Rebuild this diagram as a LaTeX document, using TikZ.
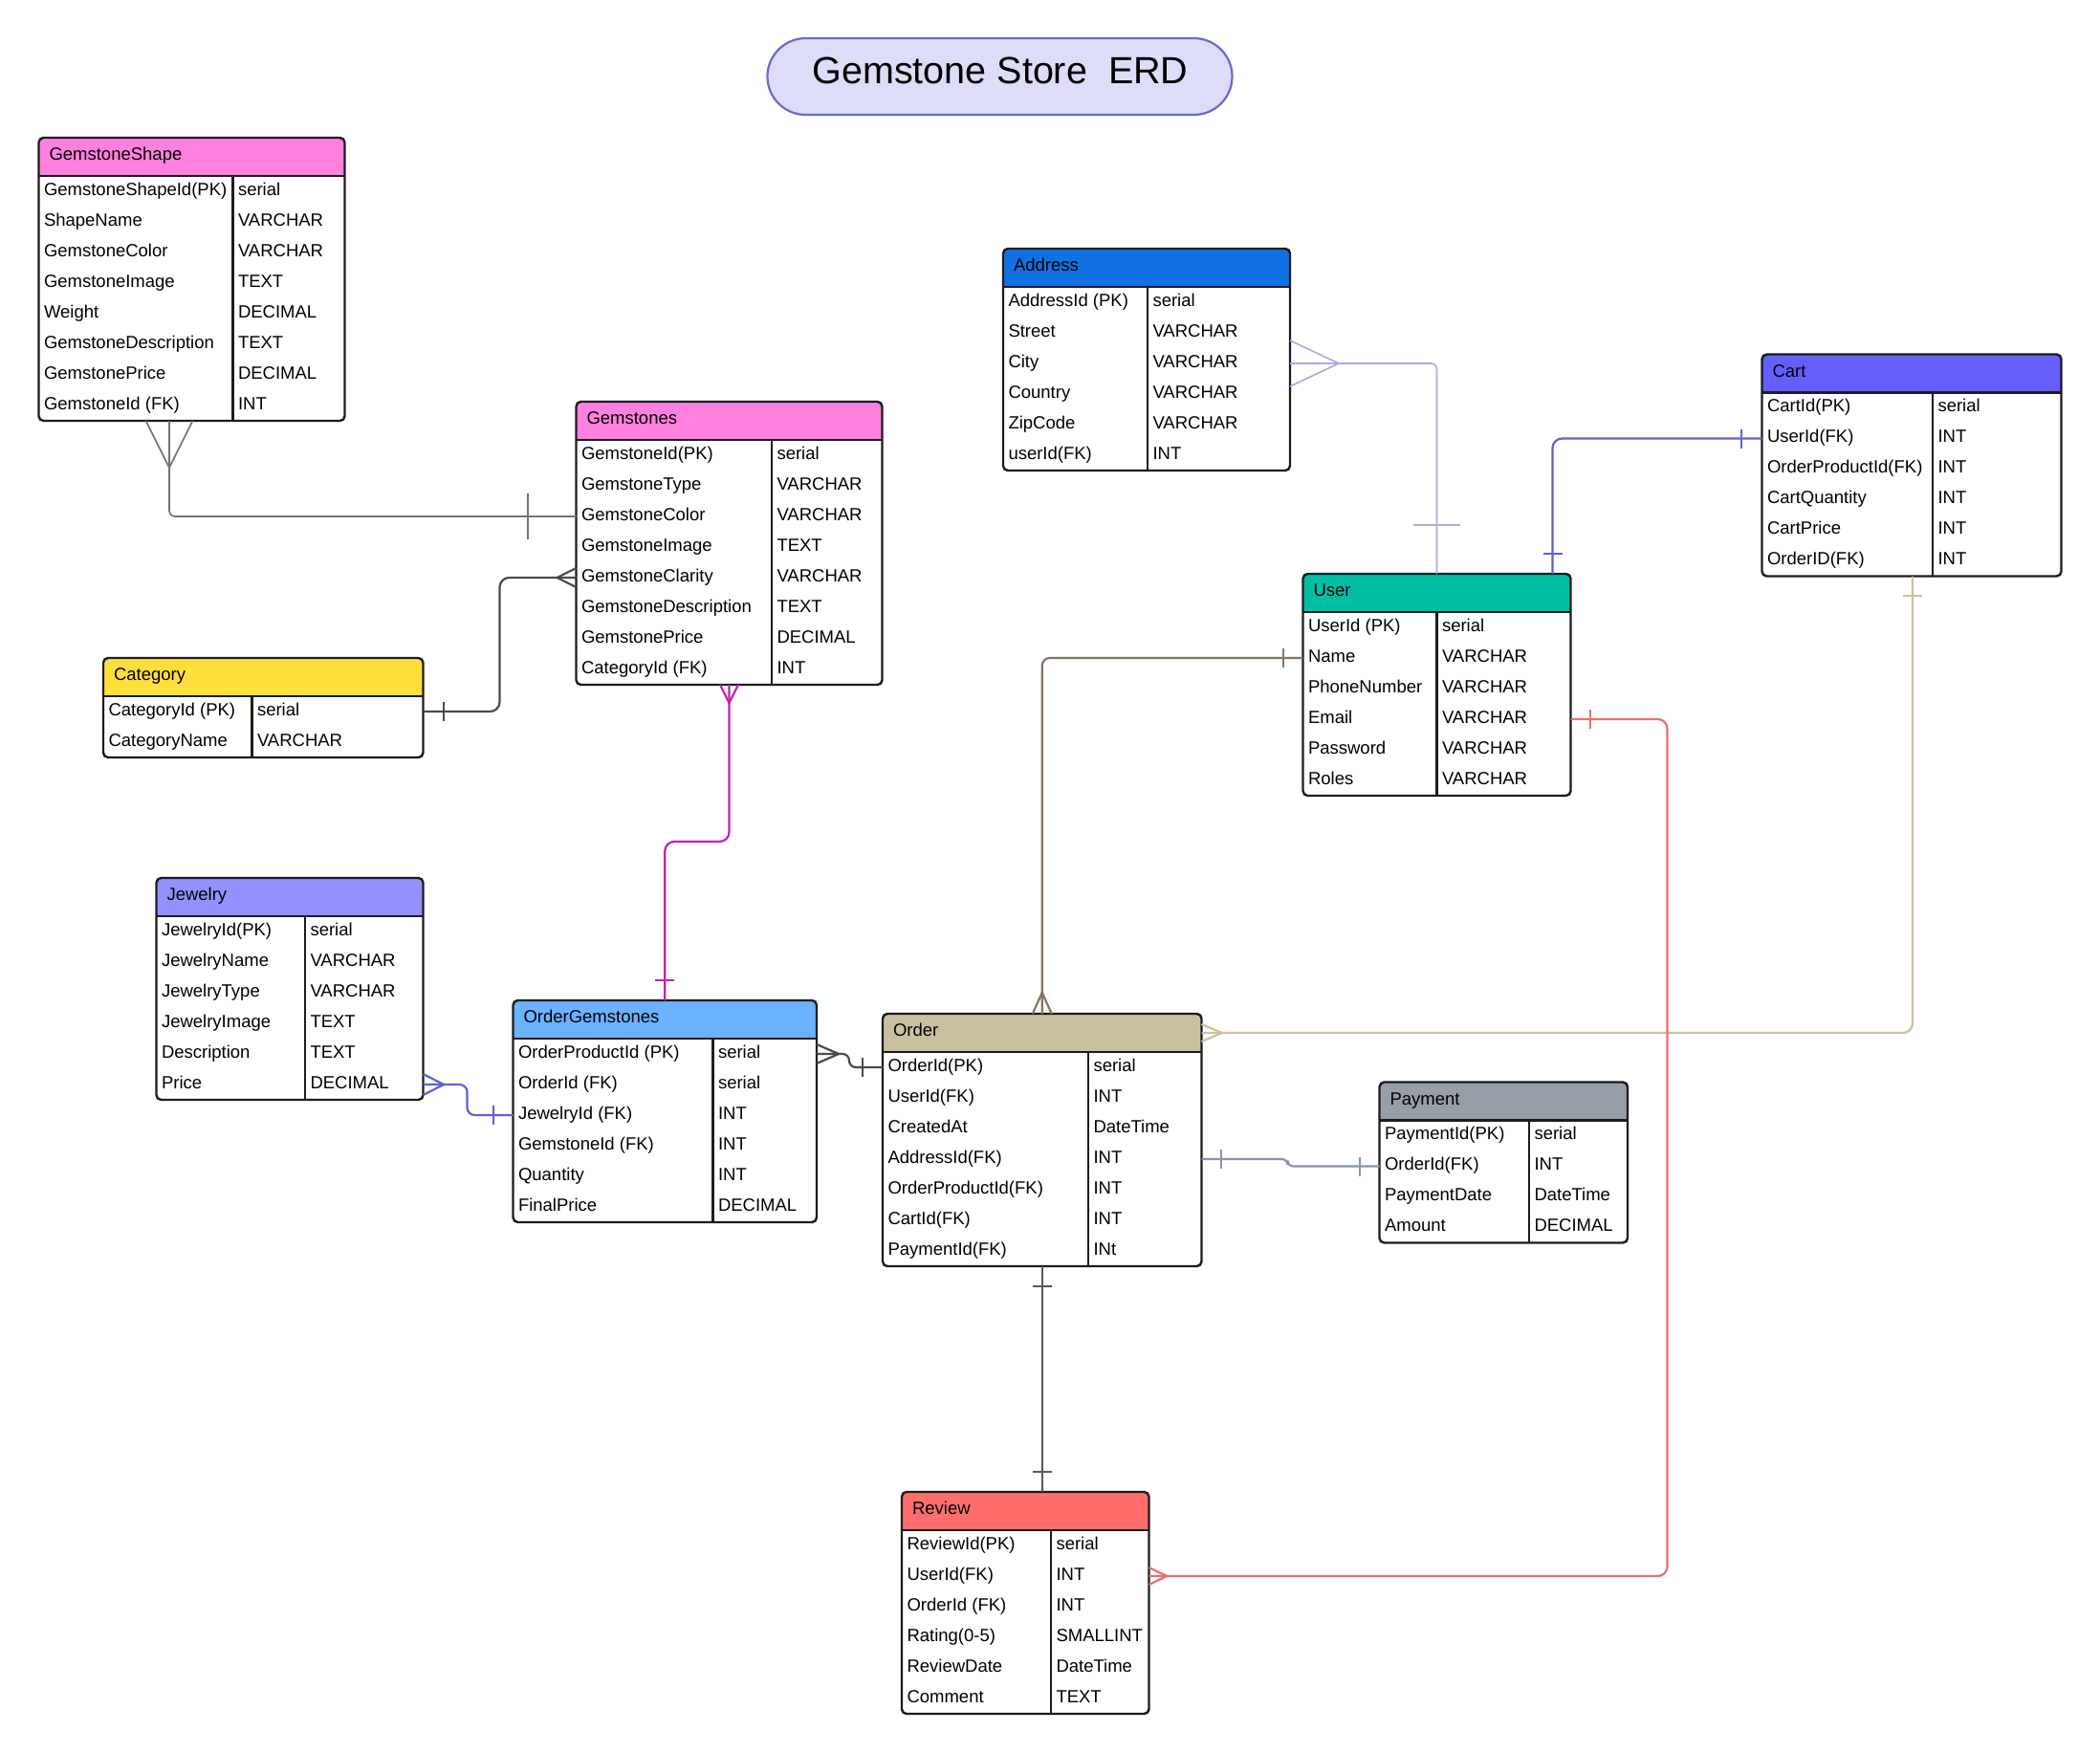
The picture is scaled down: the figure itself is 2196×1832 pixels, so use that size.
\documentclass[tikz,border=0pt]{standalone}
\usepackage{fontspec}
\setmainfont{Liberation Sans}
\usetikzlibrary{calc}

% table frame and header colours
\definecolor{ink}{RGB}{28,28,30}
\definecolor{hdrpink}{RGB}{255,128,223}
\definecolor{hdryellow}{RGB}{255,223,60}
\definecolor{hdrblue}{RGB}{16,113,229}
\definecolor{hdrviolet}{RGB}{100,95,250}
\definecolor{hdrteal}{RGB}{0,191,165}
\definecolor{hdrlav}{RGB}{148,145,255}
\definecolor{hdrsky}{RGB}{107,178,255}
\definecolor{hdrtan}{RGB}{200,192,160}
\definecolor{hdrgrey}{RGB}{151,158,168}
\definecolor{hdrred}{RGB}{255,110,108}
\definecolor{titlefill}{RGB}{221,221,250}
\definecolor{titleline}{RGB}{105,105,210}
% relationship line colours
\definecolor{greyA}{RGB}{115,115,115}
\definecolor{slate}{RGB}{72,74,80}
\definecolor{magentaL}{RGB}{196,32,180}
\definecolor{violetL}{RGB}{96,96,214}
\definecolor{oliveL}{RGB}{128,119,98}
\definecolor{lavL}{RGB}{172,172,226}
\definecolor{tanL}{RGB}{205,192,158}
\definecolor{steelL}{RGB}{138,148,166}
\definecolor{greyB}{RGB}{88,88,88}
\definecolor{salmonL}{RGB}{232,112,112}

\tikzset{
  cell/.style={inner sep=0pt, outer sep=0pt, font=\fontsize{18.5}{22}\selectfont, text=black, anchor=base west},
  rowbox/.style={inner sep=0pt, outer sep=0pt, minimum height=32pt, anchor=north west},
  frame/.style={draw=ink, line width=2.4pt},
  rule/.style={draw=ink, line width=2.2pt},
  link/.style={line width=2.2pt},
  thinlink/.style={line width=1.6pt},
}

% #1 name, #2 left, #3 top, #4 right, #5 column divider, #6 header colour,
% #7 title, #8 number of rows, #9 rows as field/type
\newcommand\erdtable[9]{%
  \pgfmathsetmacro\erdW{#4-#2}%
  \pgfmathsetmacro\erdH{40+32*#8}%
  \pgfmathsetmacro\erdB{#3+40+32*#8}%
  \node[inner sep=0pt, outer sep=0pt, minimum width=\erdW pt, minimum height=\erdH pt, anchor=north west] (#1) at (#2,#3) {};
  \begin{scope}
    \clip[rounded corners=5pt] (#2,#3) rectangle (#4,\erdB);
    \fill[white] (#2,#3) rectangle (#4,\erdB);
    \fill[#6] (#2,#3) rectangle (#4,#3+40);
  \end{scope}
  \node[inner sep=0pt, outer sep=0pt, minimum width=\erdW pt, minimum height=40pt, anchor=north west] (#1-h) at (#2,#3) {};
  \node[cell] (#1-title) at (#2+11,#3+23.5) {#7};
  \foreach \fa/\ty [count=\i] in {#9} {%
    \pgfmathsetmacro\erdY{#3+40+32*(\i-1)}%
    \node[rowbox, minimum width=\erdW pt] (#1-\i) at (#2,\erdY) {};
    \node[cell] (#1-\i-f) at (#2+5.5,\erdY+20.3) {\fa};
    \node[cell] (#1-\i-t) at (#5+5.5,\erdY+20.3) {\ty};
  }
  \draw[rule] (#2,#3+40) -- (#4,#3+40);
  \draw[rule] (#5,#3+40) -- (#5,\erdB);
  \draw[frame, rounded corners=5pt] (#2,#3) rectangle (#4,\erdB);
}

\begin{document}
\begin{tikzpicture}[x=1pt, y=-1pt]
\useasboundingbox (0,0) rectangle (2196,1832);
\fill[white] (0,0) rectangle (2196,1832);

% title
\node[draw=titleline, fill=titlefill, line width=2.2pt, rounded corners=40pt,
      minimum width=486pt, minimum height=80pt, inner sep=0pt] (title) at (1045.5,80) {};
\node[inner sep=0pt, anchor=base, font=\fontsize{39.5}{44}\selectfont] (titletext) at (1046,87) {Gemstone Store\ \ ERD};

% tables
\erdtable{gshape}{40.5}{144}{360.5}{243.5}{hdrpink}{GemstoneShape}{8}{%
  GemstoneShapeId(PK)/serial, ShapeName/VARCHAR, GemstoneColor/VARCHAR,
  GemstoneImage/TEXT, Weight/DECIMAL, GemstoneDescription/TEXT,
  GemstonePrice/DECIMAL, GemstoneId (FK)/INT}
\erdtable{gems}{602.5}{420}{922.5}{807}{hdrpink}{Gemstones}{8}{%
  GemstoneId(PK)/serial, GemstoneType/VARCHAR, GemstoneColor/VARCHAR,
  GemstoneImage/TEXT, GemstoneClarity/VARCHAR, GemstoneDescription/TEXT,
  GemstonePrice/DECIMAL, CategoryId (FK)/INT}
\erdtable{cat}{108}{688}{442.5}{263.5}{hdryellow}{Category}{2}{%
  CategoryId (PK)/serial, CategoryName/VARCHAR}
\erdtable{addr}{1049}{260}{1349}{1200}{hdrblue}{Address}{6}{%
  AddressId (PK)/serial, Street/VARCHAR, City/VARCHAR, Country/VARCHAR,
  ZipCode/VARCHAR, userId(FK)/INT}
\erdtable{cart}{1842.5}{370.5}{2155.5}{2021}{hdrviolet}{Cart}{6}{%
  CartId(PK)/serial, UserId(FK)/INT, OrderProductId(FK)/INT,
  CartQuantity/INT, CartPrice/INT, OrderID(FK)/INT}
\erdtable{user}{1362.5}{600}{1642.5}{1502.5}{hdrteal}{User}{6}{%
  UserId (PK)/serial, Name/VARCHAR, PhoneNumber/VARCHAR, Email/VARCHAR,
  Password/VARCHAR, Roles/VARCHAR}
\erdtable{jew}{163.5}{918}{442.5}{319}{hdrlav}{Jewelry}{6}{%
  JewelryId(PK)/serial, JewelryName/VARCHAR, JewelryType/VARCHAR,
  JewelryImage/TEXT, Description/TEXT, Price/DECIMAL}
\erdtable{og}{536.5}{1046}{854}{745.5}{hdrsky}{OrderGemstones}{6}{%
  OrderProductId (PK)/serial, OrderId (FK)/serial, JewelryId (FK)/INT,
  GemstoneId (FK)/INT, Quantity/INT, FinalPrice/DECIMAL}
\erdtable{order}{923}{1060}{1256.5}{1138}{hdrtan}{Order}{7}{%
  OrderId(PK)/serial, UserId(FK)/INT, CreatedAt/DateTime, AddressId(FK)/INT,
  OrderProductId(FK)/INT, CartId(FK)/INT, PaymentId(FK)/INt}
\erdtable{pay}{1442.5}{1131.5}{1702}{1599}{hdrgrey}{Payment}{4}{%
  PaymentId(PK)/serial, OrderId(FK)/INT, PaymentDate/DateTime, Amount/DECIMAL}
\erdtable{review}{943}{1560}{1201.5}{1099}{hdrred}{Review}{6}{%
  ReviewId(PK)/serial, UserId(FK)/INT, OrderId (FK)/INT,
  Rating(0-5)/SMALLINT, ReviewDate/DateTime, Comment/TEXT}

% GemstoneShape (many) -- Gemstones (one)
\coordinate (gsfoot) at ($(gshape.south west)+(136.5,0)$);
\draw[greyA, thinlink, rounded corners=6pt] (gsfoot) |- (gems-3.west);
\draw[greyA, thinlink] ($(gsfoot)+(-24.5,0)$) -- ($(gsfoot)+(0,49)$) -- ($(gsfoot)+(24.5,0)$);
\draw[greyA, thinlink] ($(gems-3.west)+(-50.5,-24)$) -- ++(0,48);

% Category (one) -- Gemstones (many)
\draw[slate, link, rounded corners=10pt] (cat-1.east) -- ++(80,0) |- (gems-5.west);
\draw[slate, link] ($(gems-5.west)+(0,-10)$) -- ($(gems-5.west)+(-20,0)$) -- ($(gems-5.west)+(0,10)$);
\draw[slate, link] ($(cat-1.east)+(21.5,-10)$) -- ++(0,20);

% Gemstones (many) -- OrderGemstones (one)
\draw[magentaL, link, rounded corners=10pt] (gems.south) -- ++(0,164) -| (og.north);
\draw[magentaL, link] ($(gems.south)+(-9.5,0)$) -- ($(gems.south)+(0,19)$) -- ($(gems.south)+(9.5,0)$);
\draw[magentaL, link] ($(og.north)+(-10,-21)$) -- ++(20,0);

% Jewelry (many) -- OrderGemstones (one)
\draw[violetL, link, rounded corners=8pt] (jew-6.east) -- ++(46,0) |- (og-3.west);
\draw[violetL, link] ($(jew-6.east)+(0,-11)$) -- ($(jew-6.east)+(21.5,0)$) -- ($(jew-6.east)+(0,11)$);
\draw[violetL, link] ($(og-3.west)+(-20.5,-10)$) -- ++(0,20);

% OrderGemstones (many) -- Order (one)
\draw[slate, link, rounded corners=7pt] (og-1.east) -- ++(34,0) |- (order-1.west);
\draw[slate, link] ($(og-1.east)+(0,-10)$) -- ($(og-1.east)+(23,0)$) -- ($(og-1.east)+(0,10)$);
\draw[slate, link] ($(order-1.west)+(-21,-10)$) -- ++(0,20);

% User (one) -- Order (many)
\draw[oliveL, link, rounded corners=8pt] (user-2.west) -| (order.north);
\draw[oliveL, link] ($(order.north)+(-10,0)$) -- ($(order.north)+(0,-22)$) -- ($(order.north)+(10,0)$);
\draw[oliveL, link] ($(user-2.west)+(-20.5,-10)$) -- ++(0,20);

% Address (many) -- User (one)
\coordinate (uA) at ($(user.north west)+(140,0)$);
\draw[lavL, thinlink, rounded corners=6pt] (addr-3.east) -| (uA);
\draw[lavL, thinlink] ($(addr-3.east)+(0,-24)$) -- ($(addr-3.east)+(51,0)$) -- ($(addr-3.east)+(0,24)$);
\draw[lavL, thinlink] ($(uA)+(-24.5,-51)$) -- ++(49,0);

% User (one) -- Cart (one)
\coordinate (uC) at ($(user.north west)+(261,0)$);
\draw[violetL, link, rounded corners=10pt] (uC) |- (cart-2.west);
\draw[violetL, link] ($(uC)+(-10,-21)$) -- ++(20,0);
\draw[violetL, link] ($(cart-2.west)+(-21.5,-10)$) -- ++(0,20);

% Cart (one) -- Order (many)
\coordinate (cO) at ($(cart.south west)+(157.5,0)$);
\draw[tanL, link, rounded corners=10pt] (cO) |- (order-h.east);
\draw[tanL, link] ($(cO)+(-10,20.5)$) -- ++(20,0);
\draw[tanL, link] ($(order-h.east)+(0,-9)$) -- ($(order-h.east)+(21.5,0)$) -- ($(order-h.east)+(0,9)$);

% Order (one) -- Payment (one)
\draw[steelL, link, rounded corners=6pt] (order-4.east) -- ++(90,0) |- (pay-2.west);
\draw[steelL, link] ($(order-4.east)+(20.5,-10)$) -- ++(0,20);
\draw[steelL, link] ($(pay-2.west)+(-20.5,-10)$) -- ++(0,20);

% Order (one) -- Review (one)
\coordinate (rvTop) at (order.south |- review.north);
\draw[greyB, thinlink] (order.south) -- (rvTop);
\draw[greyB, thinlink] ($(order.south)+(-10,21)$) -- ++(20,0);
\draw[greyB, thinlink] ($(rvTop)+(-10,-21)$) -- ++(20,0);

% User (one) -- Review (many)
\draw[salmonL, link, rounded corners=10pt] (user-4.east) -- ++(101,0) |- (review-2.east);
\draw[salmonL, link] ($(user-4.east)+(20.5,-10)$) -- ++(0,20);
\draw[salmonL, link] ($(review-2.east)+(0,-9)$) -- ($(review-2.east)+(18.5,0)$) -- ($(review-2.east)+(0,9)$);

\end{tikzpicture}
\end{document}
